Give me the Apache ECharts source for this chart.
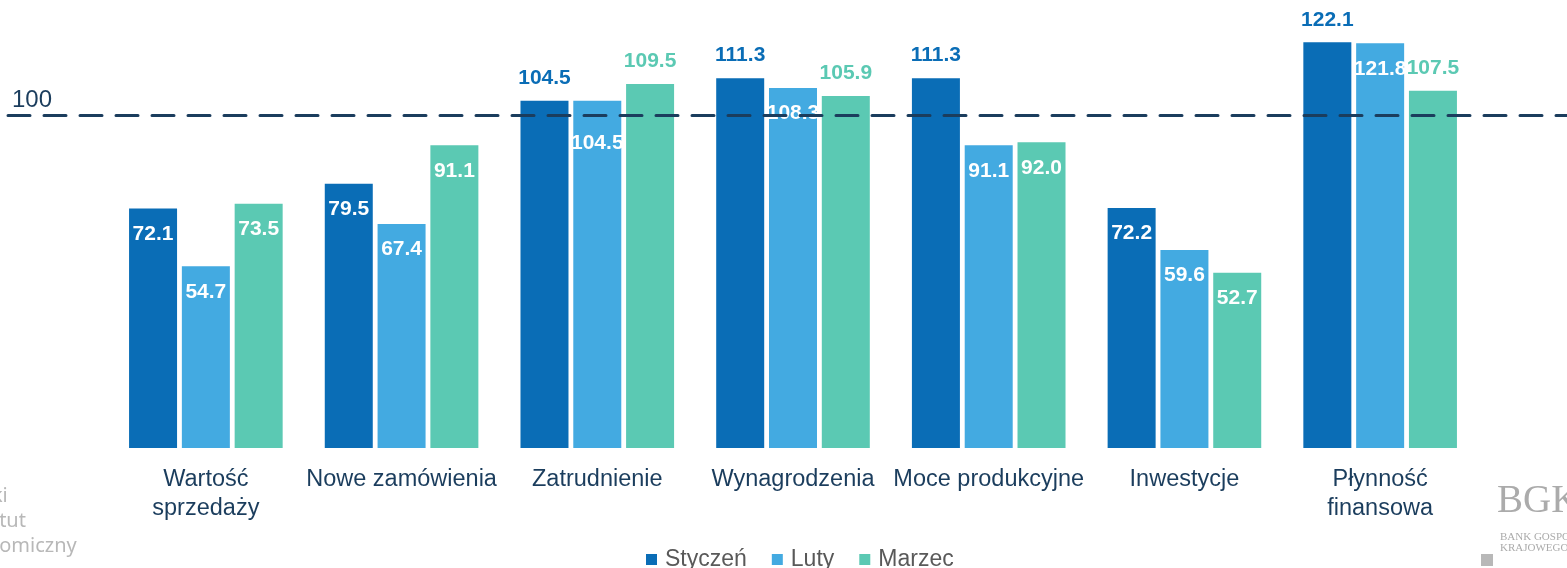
<!DOCTYPE html>
<html>
<head>
<meta charset="utf-8">
<script src="https://cdn.jsdelivr.net/npm/echarts@6/dist/echarts.min.js"></script>
<style>
html, body { margin: 0; padding: 0; background: #fff; }
#main { width: 1567px; height: 568px; }
</style>
</head>
<body>
<div id="main"></div>
<script>
var categories = ['Wartość\nsprzedaży', 'Nowe zamówienia', 'Zatrudnienie', 'Wynagrodzenia', 'Moce produkcyjne', 'Inwestycje', 'Płynność\nfinansowa'];
var styczen = [72.1, 79.5, 104.5, 111.3, 111.3, 72.2, 122.1];
var luty = [54.7, 67.4, 104.5, 108.3, 91.1, 59.6, 121.8];
var marzec = [73.5, 91.1, 109.5, 105.9, 92.0, 52.7, 107.5];
var seriesNames = ['Styczeń', 'Luty', 'Marzec'];
var referenceValue = 100;

var colors = ['#0a6db6', '#43aae1', '#5bc9b3'];
var navy = '#1b3d5d';
var font = "'Liberation Sans', Arial, sans-serif";

var myChart = echarts.init(document.getElementById('main'));

// labels: above the bar (in bar colour) when over 100, except Luty which is always inside
function buildData(values, idx) {
    return values.map(function (v, i) {
        var outside = idx !== 1 && v > referenceValue;
        var item = {
            value: v,
            label: outside ? {
                position: 'top',
                distance: 12,
                color: colors[idx]
            } : {
                position: 'insideTop',
                distance: 15,
                color: '#fff'
            }
        };
        if (idx === 1 && i === 2) item.label.distance = 32;
        return item;
    });
}

function barSeries(name, values, idx) {
    return {
        name: name,
        type: 'bar',
        barWidth: 48,
        barGap: '10%',
        z: 2,
        itemStyle: { color: colors[idx] },
        label: {
            show: true,
            fontFamily: font,
            fontSize: 21,
            fontWeight: 'bold',
            formatter: function (p) { return p.value.toFixed(1); }
        },
        data: buildData(values, idx)
    };
}

var option = {
    animation: false,
    textStyle: { fontFamily: font },
    legend: {
        data: seriesNames,
        left: 641,
        top: 543,
        icon: 'rect',
        itemWidth: 11,
        itemHeight: 11,
        itemGap: 25,
        textStyle: { fontSize: 23, color: '#595959', padding: [0, 0, 0, 3] }
    },
    grid: [
        { left: 108, right: 89, top: 16, bottom: 120 },
        { left: 8, right: 0, top: 16, bottom: 120 }
    ],
    xAxis: [
        {
            type: 'category',
            data: categories,
            axisLine: { show: false },
            axisTick: { show: false },
            axisLabel: {
                margin: 17,
                fontSize: 23.5,
                lineHeight: 29,
                color: navy,
                interval: 0
            }
        },
        { type: 'value', gridIndex: 1, min: 0, max: 1, show: false }
    ],
    yAxis: [
        { type: 'value', min: 0, max: 130, show: false },
        { type: 'value', gridIndex: 1, min: 0, max: 130, show: false }
    ],
    series: [
        barSeries(seriesNames[0], styczen, 0),
        barSeries(seriesNames[1], luty, 1),
        barSeries(seriesNames[2], marzec, 2),
        {
            type: 'line',
            xAxisIndex: 1,
            yAxisIndex: 1,
            data: [],
            z: 3,
            silent: true,
            markLine: {
                silent: true,
                symbol: 'none',
                lineStyle: { color: navy, width: 3, type: [22, 14], cap: 'round' },
                label: {
                    position: 'insideStartTop',
                    formatter: String(referenceValue),
                    fontFamily: font,
                    fontSize: 24,
                    color: navy,
                    distance: [4, 3]
                },
                data: [{ yAxis: referenceValue }]
            }
        }
    ],
    graphic: [
        {
            type: 'text',
            left: -47,
            top: 484,
            silent: true,
            style: {
                text: 'Polski\nInstytut\nEkonomiczny',
                font: "20px 'Noto Sans', sans-serif",
                lineHeight: 25,
                fill: '#b8b8b8'
            }
        },
        {
            type: 'text',
            left: 1497,
            top: 482,
            silent: true,
            style: { text: 'BGK', font: "39px 'Liberation Serif', serif", fill: '#ababab' }
        },
        {
            type: 'text',
            left: 1500,
            top: 532,
            silent: true,
            style: {
                text: 'BANK GOSPODARSTWA\nKRAJOWEGO',
                font: "11px 'Liberation Serif', serif",
                lineHeight: 11,
                fill: '#ababab'
            }
        },
        {
            type: 'rect',
            left: 1481,
            top: 554,
            silent: true,
            shape: { width: 12, height: 12 },
            style: { fill: '#b8b8b8' }
        }
    ]
};

myChart.setOption(option);
</script>
</body>
</html>
